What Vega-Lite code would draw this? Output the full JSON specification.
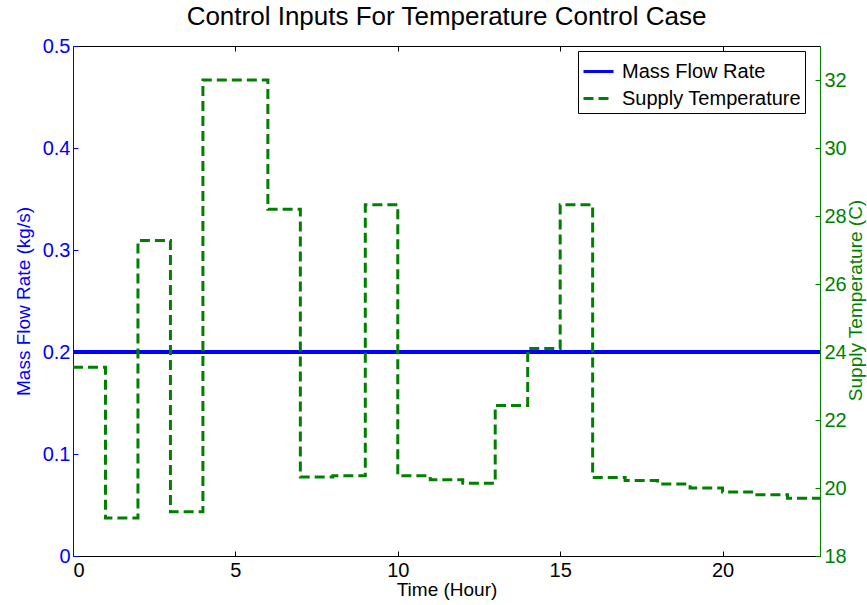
{
  "$schema": "https://vega.github.io/schema/vega-lite/v6.json",
  "width": 747,
  "height": 510,
  "autosize": {"type": "none"},
  "padding": {"left": 73, "top": 46, "right": 47, "bottom": 49},
  "title": {"text": "Control Inputs For Temperature Control Case", "font": "Liberation Sans", "fontSize": 26, "fontWeight": "normal", "color": "black", "offset": 6},
  "config": {
    "view": {"stroke": "black", "strokeWidth": 1},
    "axis": {"grid": false, "labelFont": "Liberation Sans", "titleFont": "Liberation Sans", "labelFontSize": 20, "titleFontSize": 19, "titleFontWeight": "normal", "tickSize": -5, "labelPadding": 8}
  },
  "encoding": {
    "x": {"field": "hour", "type": "quantitative", "scale": {"domain": [0, 23], "nice": false}}
  },
  "layer": [
    {
      "data": {"values": [
        {"hour": 0, "value": 0.2, "series": "Mass Flow Rate"},
        {"hour": 23, "value": 0.2, "series": "Mass Flow Rate"}
      ]},
      "mark": {"type": "line", "strokeWidth": 4},
      "encoding": {
        "x": {"field": "hour", "type": "quantitative", "scale": {"domain": [0, 23], "nice": false},
          "axis": {"orient": "bottom", "title": "Time (Hour)", "values": [0, 5, 10, 15, 20], "labelColor": "black", "titleColor": "black", "domainColor": "black", "tickColor": "black", "labelPadding": 9, "titlePadding": 0}},
        "y": {"field": "value", "type": "quantitative", "scale": {"domain": [0, 0.5], "nice": false},
          "axis": {"orient": "left", "title": "Mass Flow Rate (kg/s)", "values": [0, 0.1, 0.2, 0.3, 0.4, 0.5], "format": "~g", "labelColor": "#0000FF", "titleColor": "#0000FF", "domainColor": "#0000FF", "tickColor": "#0000FF", "titlePadding": 9}},
        "color": {"field": "series", "type": "nominal", "scale": {"domain": ["Mass Flow Rate", "Supply Temperature"], "range": ["#0000FF", "#008000"]},
          "legend": {"title": null, "orient": "none", "legendX": 505, "legendY": 5, "symbolType": "stroke", "symbolSize": 900, "symbolStrokeWidth": 3, "labelFont": "Liberation Sans", "labelFontSize": 20, "labelColor": "black", "labelLimit": 400, "strokeColor": "black", "fillColor": "white", "padding": 4, "rowPadding": -5, "labelOffset": 7}},
        "strokeDash": {"field": "series", "type": "nominal", "scale": {"domain": ["Mass Flow Rate", "Supply Temperature"], "range": [[1, 0], [10, 5]]},
          "legend": {"title": null}}
      }
    },
    {
      "data": {"values": [
        {"hour": 0, "value": 23.55, "series": "Supply Temperature"},
        {"hour": 1, "value": 19.12, "series": "Supply Temperature"},
        {"hour": 2, "value": 27.28, "series": "Supply Temperature"},
        {"hour": 3, "value": 19.3, "series": "Supply Temperature"},
        {"hour": 4, "value": 32.0, "series": "Supply Temperature"},
        {"hour": 5, "value": 32.0, "series": "Supply Temperature"},
        {"hour": 6, "value": 28.2, "series": "Supply Temperature"},
        {"hour": 7, "value": 20.32, "series": "Supply Temperature"},
        {"hour": 8, "value": 20.36, "series": "Supply Temperature"},
        {"hour": 9, "value": 28.33, "series": "Supply Temperature"},
        {"hour": 10, "value": 20.36, "series": "Supply Temperature"},
        {"hour": 11, "value": 20.24, "series": "Supply Temperature"},
        {"hour": 12, "value": 20.14, "series": "Supply Temperature"},
        {"hour": 13, "value": 22.43, "series": "Supply Temperature"},
        {"hour": 14, "value": 24.1, "series": "Supply Temperature"},
        {"hour": 15, "value": 28.33, "series": "Supply Temperature"},
        {"hour": 16, "value": 20.31, "series": "Supply Temperature"},
        {"hour": 17, "value": 20.22, "series": "Supply Temperature"},
        {"hour": 18, "value": 20.12, "series": "Supply Temperature"},
        {"hour": 19, "value": 20.0, "series": "Supply Temperature"},
        {"hour": 20, "value": 19.88, "series": "Supply Temperature"},
        {"hour": 21, "value": 19.8, "series": "Supply Temperature"},
        {"hour": 22, "value": 19.7, "series": "Supply Temperature"},
        {"hour": 23, "value": 19.7, "series": "Supply Temperature"}
      ]},
      "mark": {"type": "line", "strokeWidth": 3, "interpolate": "step-after"},
      "encoding": {
        "x": {"field": "hour", "type": "quantitative", "scale": {"domain": [0, 23], "nice": false},
          "axis": {"orient": "top", "title": null, "labels": false, "domain": false, "values": [0, 5, 10, 15, 20], "tickColor": "black"}},
        "y": {"field": "value", "type": "quantitative", "scale": {"domain": [18, 33], "nice": false},
          "axis": {"orient": "right", "title": "Supply Temperature (C)", "titleAngle": 270, "titleX": 35, "titleY": 254, "titleAlign": "center", "titleBaseline": "middle", "values": [18, 20, 22, 24, 26, 28, 30, 32], "labelColor": "#008000", "titleColor": "#008000", "domainColor": "#008000", "tickColor": "#008000", "labelPadding": 9}},
        "color": {"field": "series", "type": "nominal"},
        "strokeDash": {"field": "series", "type": "nominal"}
      }
    }
  ],
  "resolve": {"scale": {"y": "independent"}, "axis": {"x": "independent"}}
}
